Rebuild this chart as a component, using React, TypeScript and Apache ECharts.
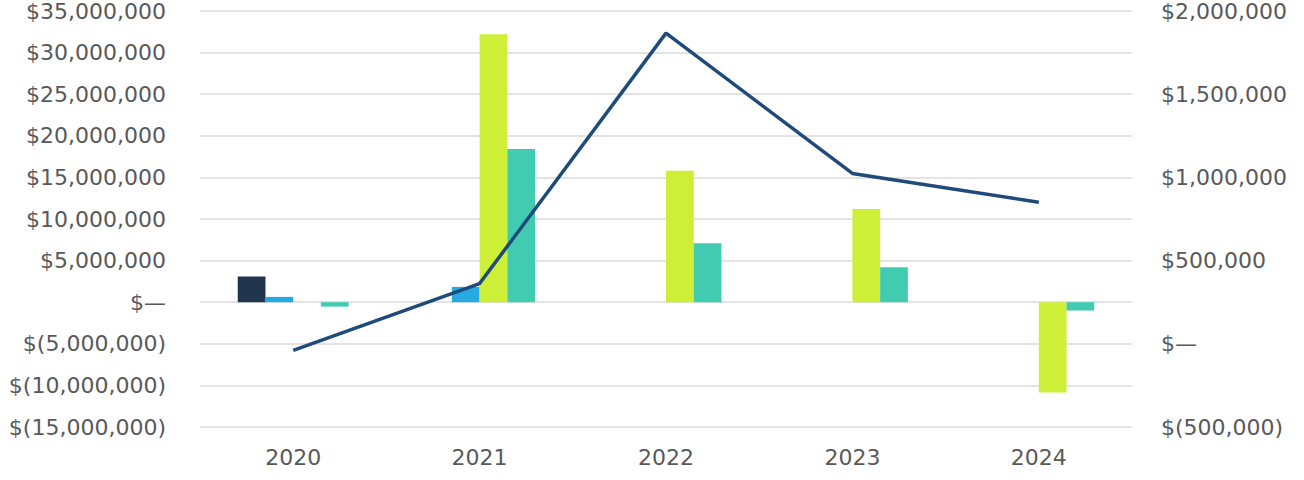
import React, { useEffect, useRef } from "react";
import * as echarts from "echarts";

const categories = ["2020", "2021", "2022", "2023", "2024"];
const seriesNavy = [3100000, 0, 0, 0, 0];
const seriesBlue = [640000, 1840000, 0, 0, 0];
const seriesLime = [0, 32200000, 15800000, 11200000, -10850000];
const seriesTeal = [-530000, 18400000, 7100000, 4200000, -1000000];
const lineValues = [-40000, 362000, 1867000, 1024000, 851000];

const fmt = (v: number) => {
  if (v === 0) return "$\u2014";
  const s = Math.abs(v).toLocaleString("en-US");
  return v < 0 ? `$(${s})` : `$${s}`;
};

const FONT = "'DejaVu Sans', sans-serif";
const TEXT = "#595959";
const FS = 22;

export default function App() {
  const ref = useRef<HTMLDivElement>(null);
  useEffect(() => {
    if (!ref.current) return;
    const chart = echarts.init(ref.current, undefined, { renderer: "svg" });
    const bar = (name: string, data: number[], color: string) => ({
      name,
      type: "bar",
      data,
      yAxisIndex: 0,
      barGap: "0%",
      barCategoryGap: "40.5%",
      itemStyle: { color },
    });
    chart.setOption({
      animation: false,
      grid: { left: 200, right: 172, top: 11, bottom: 53, containLabel: false },
      xAxis: {
        type: "category",
        data: categories,
        axisLine: { show: false },
        axisTick: { show: false },
        axisLabel: { color: TEXT, fontFamily: FONT, fontSize: FS, margin: 19 },
      },
      yAxis: [
        {
          type: "value",
          min: -15000000,
          max: 35000000,
          interval: 5000000,
          axisLine: { show: false },
          axisTick: { show: false },
          splitLine: { lineStyle: { color: "#e3e3e3", width: 2 } },
          axisLabel: { color: TEXT, fontFamily: FONT, fontSize: FS, margin: 34, formatter: fmt },
        },
        {
          type: "value",
          min: -500000,
          max: 2000000,
          interval: 500000,
          axisLine: { show: false },
          axisTick: { show: false },
          splitLine: { show: false },
          axisLabel: { color: TEXT, fontFamily: FONT, fontSize: FS, margin: 29, formatter: fmt },
        },
      ],
      series: [
        bar("A", seriesNavy, "#22354f"),
        bar("B", seriesBlue, "#27aae1"),
        bar("C", seriesLime, "#cdef37"),
        bar("D", seriesTeal, "#41ccb1"),
        {
          name: "L",
          type: "line",
          yAxisIndex: 1,
          data: lineValues,
          symbol: "none",
          lineStyle: { color: "#1f4b7b", width: 3.5 },
        },
      ],
    });
    return () => chart.dispose();
  }, []);
  return (
    <div
      ref={ref}
      style={{ position: "absolute", left: 0, top: 0, width: 1304, height: 480 }}
    />
  );
}
